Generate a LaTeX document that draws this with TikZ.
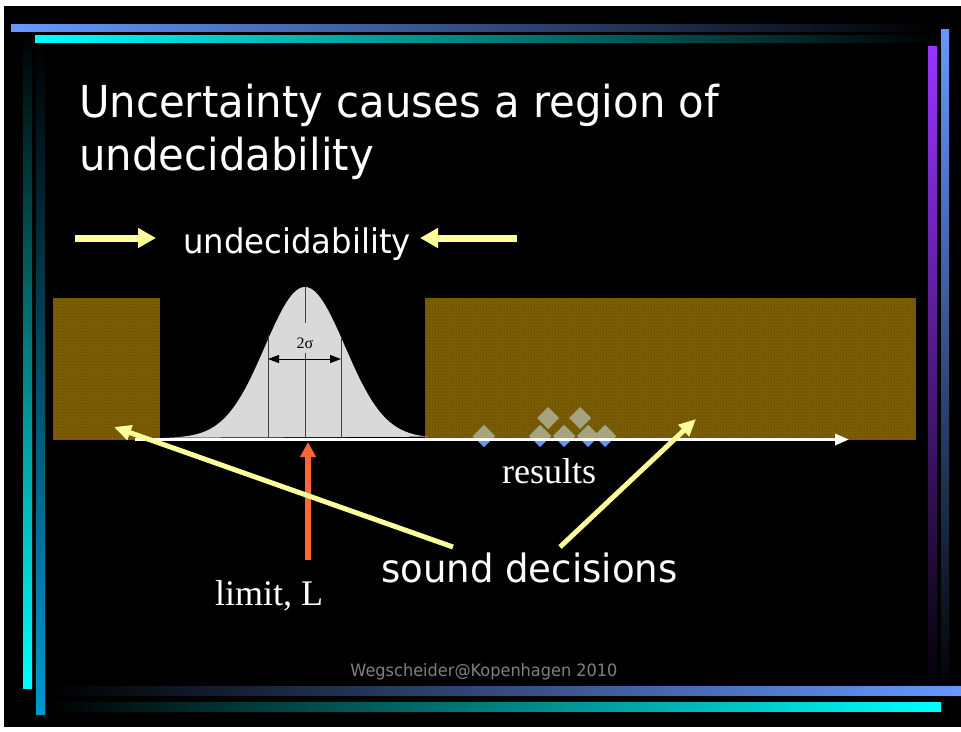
\documentclass[tikz,border=0pt]{standalone}
\usepackage{fontspec}
\setmainfont{Liberation Serif}
\newfontfamily\tah[FakeStretch=0.95]{DejaVu Sans}
\usetikzlibrary{arrows.meta,patterns}
\definecolor{barblue}{RGB}{102,153,255}
\definecolor{barcyan}{RGB}{0,255,255}
\definecolor{barteal}{RGB}{0,153,204}
\definecolor{barpurple}{RGB}{153,51,255}
\definecolor{yel}{RGB}{255,255,153}
\definecolor{orng}{RGB}{255,102,51}
\definecolor{olivebox}{RGB}{124,94,2}
\definecolor{olivedot}{RGB}{60,45,0}
\definecolor{gaussgray}{RGB}{217,217,217}
\definecolor{linegray}{RGB}{64,64,64}
\definecolor{diagray}{RGB}{166,164,126}
\definecolor{diablue}{RGB}{102,153,255}
\definecolor{footgray}{RGB}{128,128,128}
\tikzset{
  titletext/.style={text=white,inner sep=0pt,font=\tah\fontsize{44}{53}\selectfont},
  sanstext/.style={text=white,inner sep=0pt,font=\tah\fontsize{#1}{#1}\selectfont},
  seriftext/.style={text=white,inner sep=0pt,font=\fontsize{36}{40}\selectfont},
  yelarrow/.style={draw=yel,line width=7pt,-{Triangle[length=18pt,width=19pt]}},
  pointer/.style={draw=yel,line width=5pt,-{Triangle[length=17pt,width=15pt]}},
  limitarrow/.style={draw=orng,line width=6pt,-{Triangle[length=15pt,width=15pt]}},
  axisarrow/.style={draw=white,line width=3pt,-{Triangle[length=14pt,width=11pt]}},
  olive/.style={fill=olivebox,postaction={pattern=dots,pattern color=olivedot}},
  sigline/.style={draw=linegray,line width=1pt},
}
\newcommand{\mydiamond}[3]{\fill[#3] (#1,#2-11) -- (#1+11,#2) -- (#1,#2+11) -- (#1-11,#2) -- cycle;}
\begin{document}
\begin{tikzpicture}[x=1pt,y=-1pt]
\fill[white] (0,0) rectangle (961,731);
\fill[black] (4,6) rectangle (961,727);
\useasboundingbox (0,0) rectangle (961,731);
% frame bars
\shade[top color=black,bottom color=barcyan] (23,32) rectangle (32,688);
\shade[top color=black,bottom color=barteal] (36,42) rectangle (45,714);
\shade[top color=barpurple,bottom color=black] (928,46) rectangle (937,699);
\shade[top color=barblue,bottom color=black] (941,29) rectangle (949,695);
\shade[left color=barblue,right color=black] (11,24) rectangle (935,31);
\shade[left color=barcyan,right color=black] (35,35) rectangle (935,42);
\shade[left color=black,right color=barblue] (48,686) rectangle (961,695);
\shade[left color=black,right color=barcyan] (48,702) rectangle (941,711);
% title
\node[titletext,anchor=base west] (title1) at (79,117) {Uncertainty causes a region of};
\node[titletext,anchor=base west] (title2) at (79,170) {undecidability};
% undecidability label with arrows
\node[sanstext=34,anchor=base west] (und) at (183,253) {undecidability};
\coordinate (ul1) at (75,238);
\coordinate (ul2) at (156,238);
\coordinate (ur1) at (517,238);
\coordinate (ur2) at (420,238);
\draw[yelarrow] (ul1) -- (ul2);
\draw[yelarrow] (ur1) -- (ur2);
% boxes
\path[olive] (53,298) rectangle (160,440);
\path[olive] (425,298) rectangle (916,440);
% gaussian
\fill[gaussgray] plot[domain=163:428,samples=120] (\x,{438-151*exp(-0.5*((\x-305)/40)^2)}) -- cycle;
\draw[sigline] (268,335) -- (268,438);
\draw[sigline] (341,337) -- (341,438);
\draw[sigline] (305,287) -- (305,323);
\draw[sigline] (305,353) -- (305,438);
\node[inner sep=0pt,font=\fontsize{16}{16}\selectfont] (sigma) at (305,343) {2σ};
\coordinate (sl) at (268,359);
\coordinate (sr) at (341,359);
\draw[black,line width=1pt,{Triangle[length=11pt,width=8pt]}-{Triangle[length=11pt,width=8pt]}] (sl) -- (sr);
% diamonds
\begin{scope}
\mydiamond{484}{436}{diablue}
\mydiamond{540}{436}{diablue}
\mydiamond{564}{436}{diablue}
\mydiamond{588}{436}{diablue}
\mydiamond{605}{436}{diablue}
\end{scope}
\begin{scope}
\clip (420,300) rectangle (920,440);
\mydiamond{484}{436}{diagray}
\mydiamond{540}{436}{diagray}
\mydiamond{564}{436}{diagray}
\mydiamond{588}{436}{diagray}
\mydiamond{605}{436}{diagray}
\mydiamond{548}{418}{diagray}
\mydiamond{580}{418}{diagray}
\end{scope}
% axis
\coordinate (ax0) at (135,439.5);
\coordinate (ax1) at (849,439.5);
\draw[axisarrow] (ax0) -- (ax1);
% labels
\node[seriftext,anchor=base west] (results) at (502,483) {results};
\node[seriftext,anchor=base west] (limit) at (215,605) {limit, L};
\node[sanstext=39,anchor=base west] (sound) at (381,582) {sound decisions};
\node[inner sep=0pt,text=footgray,font=\tah\fontsize{17}{17}\selectfont,anchor=base] (footer) at (484,676) {Wegscheider@Kopenhagen 2010};
% pointers
\coordinate (lim0) at (308,560);
\coordinate (lim1) at (308,442);
\draw[limitarrow] (lim0) -- (lim1);
\coordinate (sd1) at (453,547);
\coordinate (sd1t) at (114,427);
\coordinate (sd2) at (560,547);
\coordinate (sd2t) at (696,419);
\draw[pointer] (sd1) -- (sd1t);
\draw[pointer] (sd2) -- (sd2t);
\end{tikzpicture}
\end{document}
